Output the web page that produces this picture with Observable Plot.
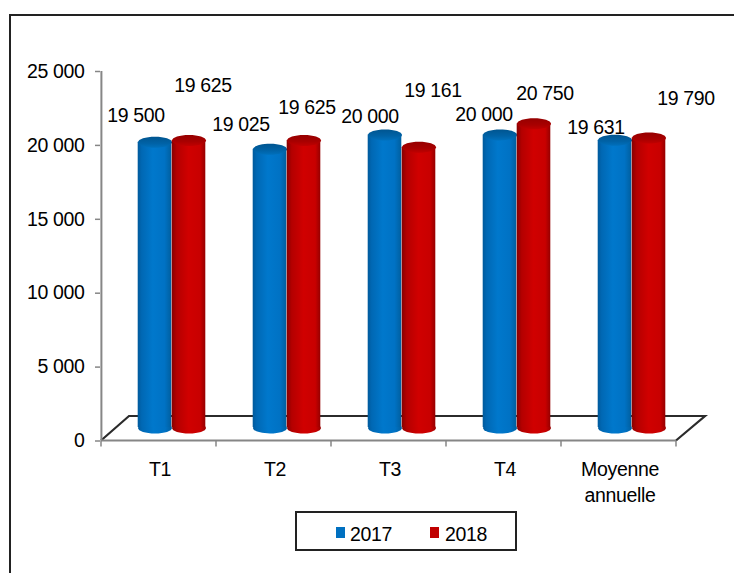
<!DOCTYPE html>
<html><head><meta charset="utf-8">
<script src="https://cdn.jsdelivr.net/npm/d3@7"></script>
<script src="https://cdn.jsdelivr.net/npm/@observablehq/plot@0.6"></script>
<style>
html,body{margin:0;padding:0;background:#fff;overflow:hidden}
#page{position:relative;width:734px;height:573px;font-family:"Liberation Sans",Arial,sans-serif;color:#000}
#frame{position:absolute;left:9px;top:14px;width:760px;height:600px;border:2px solid #222;box-sizing:border-box}
#chart{position:absolute;left:0;top:0}
#legend{position:absolute;left:295px;top:511px;width:222px;height:40px;box-sizing:border-box;border:2px solid #222;background:#fff;font-size:19.5px;letter-spacing:-.35px}
#legend span{position:absolute;top:9px;line-height:24px}
#legend i{position:absolute;top:14px;width:9px;height:11px}
svg text{letter-spacing:-.35px}
</style></head><body>
<div id="page"><div id="frame"></div><div id="chart"></div>
<div id="legend"></div></div>
<script>
const categories = ["T1","T2","T3","T4","Moyenne annuelle"];
const series = ["2017","2018"];
const values2017 = [19500,19025,20000,20000,19631];
const values2018 = [19625,19625,19161,20750,19790];
const yTicks = [0,5000,10000,15000,20000,25000];
const colors = {"2017":"#0070c0","2018":"#c00000"};

// layout only: label displacement from each bar's value position
const labelDx2017 = [-23,-33,-19,-20,-23];
const labelDy2017 = [-37,-35,-29,-31,-23];
const labelDx2018 = [44,33,44,41,67];
const labelDy2018 = [-65,-43,-67,-41,-50];

const fmt = v => d3.format(",")(v).replace(/,/g," ");
const rows = s => categories.map((c,i)=>({c,v:(s==="2017"?values2017:values2018)[i],i}));

const ellipse = {draw(ctx){
  const a=17,b=5.5,k=0.5523;
  ctx.moveTo(-a,0);
  ctx.bezierCurveTo(-a,-b*k,-a*k,-b,0,-b);
  ctx.bezierCurveTo(a*k,-b,a,-b*k,a,0);
  ctx.bezierCurveTo(a,b*k,a*k,b,0,b);
  ctx.bezierCurveTo(-a*k,b,-a,b*k,-a,0);
  ctx.closePath();
}};

function defs(){
  const d=d3.create("svg:defs");
  const grad=(id,stops,vertical)=>{const g=d.append("linearGradient").attr("id",id);
    if(vertical) g.attr("x1",0).attr("y1",0).attr("x2",0).attr("y2",1);
    stops.forEach(([o,c])=>g.append("stop").attr("offset",o).attr("stop-color",c));};
  grad("g2017",[[0,"#005a9c"],[.12,"#0068b4"],[.45,"#0078cc"],[.8,"#0072c4"],[1,"#005f9f"]]);
  grad("g2018",[[0,"#860000"],[.15,"#b40000"],[.5,"#d00000"],[.85,"#c80000"],[1,"#960000"]]);
  grad("t2017",[[0,"#005590"],[.6,"#0062a6"],[1,"#0070bc"]],true);
  grad("t2018",[[0,"#960000"],[.6,"#a80000"],[1,"#c00000"]],true);
  return d.node();
}

// 3D floor and band-edge ticks, placed from the scales
function floor(index,{x,y}){
  const g=d3.create("svg:g").attr("fill","none");
  const bw=x.bandwidth();
  const x0=x(categories[0]),x1=x(categories[categories.length-1])+bw,y0=y(0);
  g.append("path").attr("d",`M${x0},${y0}L${x0+28},${y0-24.5}H${x1+29}L${x1},${y0}`)
    .attr("stroke","#2b2b2b").attr("stroke-width",2.2).attr("fill","#fff");
  g.append("path").attr("d",`M${x0},${y0}H${x1}`).attr("stroke","#868686").attr("stroke-width",2);
  categories.forEach((c,i)=>g.append("path").attr("d",`M${x(c)},${y0}v6`).attr("stroke","#868686").attr("stroke-width",1.5));
  g.append("path").attr("d",`M${x1},${y0}v6`).attr("stroke","#868686").attr("stroke-width",1.5);
  return g.node();
}

const barMarks = s => {
  const dx = s==="2017" ? -4 : 30;
  const data = rows(s);
  const common = {x:"c",dx,dy:-10.5};
  return [
    Plot.dot(data,{x:"c",y:()=>0,dx,dy:-13,symbol:ellipse,r:1,fill:`url(#g${s})`,stroke:"none"}),
    Plot.barY(data,{...common,y:"v",fill:`url(#g${s})`,insetLeft:40.7,insetRight:40.7,insetBottom:3}),
    Plot.dot(data,{...common,y:"v",symbol:ellipse,r:1,fill:`url(#t${s})`,stroke:"none"})
  ];
};

const labelMarks = (s,dxs,dys) => rows(s).map(d=>Plot.text([d],{x:"c",y:"v",text:e=>fmt(e.v),dx:dxs[d.i],dy:dys[d.i],fill:"#000",fontSize:19.5,textAnchor:"middle",lineAnchor:"middle"}));

const plot = Plot.plot({
  width:734,height:573,
  marginLeft:100,marginRight:58,marginTop:71,marginBottom:132.5,
  style:{background:"transparent",fontFamily:'"Liberation Sans",Arial,sans-serif',overflow:"visible"},
  x:{type:"band",domain:categories,padding:0},
  y:{domain:[0,25000],ticks:yTicks},
  marks:[
    defs,
    floor,
    Plot.axisY({ticks:yTicks,tickFormat:fmt,tickSize:5,tickPadding:11,stroke:"#868686",strokeWidth:1.5,fill:"#000",fontSize:19.5,label:null,color:"#000"}),
    Plot.ruleX([categories[0]],{x:()=>categories[0],dx:-57.6,y1:0,y2:25000,stroke:"#868686",strokeWidth:2}),
    ...barMarks("2017"),
    ...barMarks("2018"),
    ...labelMarks("2017",labelDx2017,labelDy2017),
    ...labelMarks("2018",labelDx2018,labelDy2018),
    Plot.axisX({tickSize:0,tickPadding:17,dx:1,fontSize:19.5,label:null,fill:"#000",
      tickFormat:d=>d,lineWidth:7,lineHeight:1.33,textOverflow:null})
  ]
});
document.getElementById("chart").append(plot);

const lg=document.getElementById("legend");
const pos={"2017":[39,53],"2018":[133,148]};
series.forEach(s=>{
  const i=document.createElement("i");i.style.left=pos[s][0]+"px";i.style.background=colors[s];lg.append(i);
  const t=document.createElement("span");t.style.left=pos[s][1]+"px";t.textContent=s;lg.append(t);
});
</script></body></html>
